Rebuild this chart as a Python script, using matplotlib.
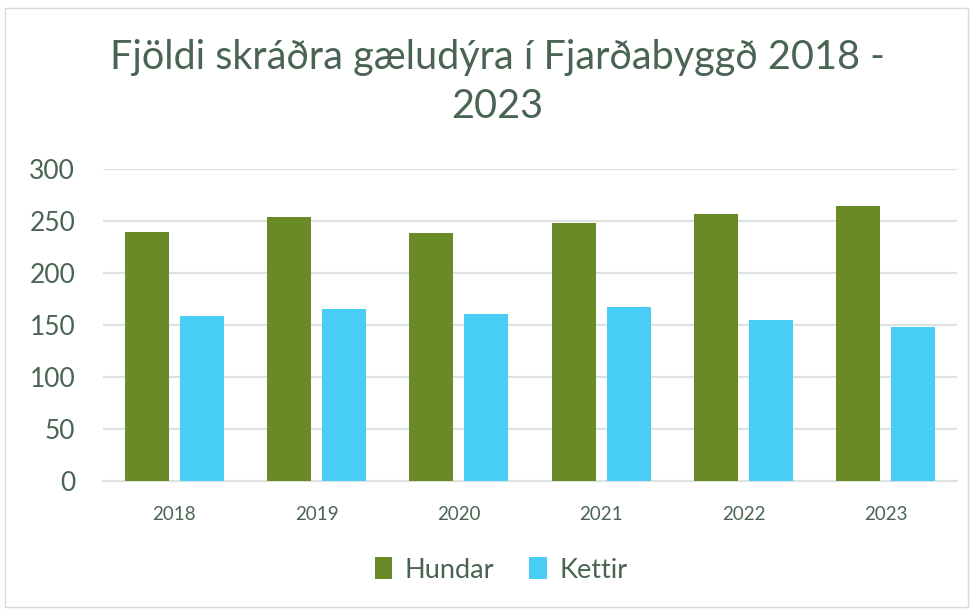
import matplotlib.pyplot as plt
import numpy as np
from matplotlib.patches import Rectangle

years = ["2018", "2019", "2020", "2021", "2022", "2023"]
hundar = [239, 254, 238, 248, 257, 264]
kettir = [159, 165, 161, 167, 155, 148]

green = "#6a8a28"
blue = "#48cdf6"
text_color = "#4a6453"

plt.rcParams['font.family'] = ['Lato', 'DejaVu Sans']

fig = plt.figure(figsize=(9.74, 6.1), dpi=100)
ax = fig.add_axes([103 / 974, 1 - 481 / 610, 854 / 974, 312 / 610])

x = np.arange(len(years))
w = 0.31
gap = 0.077
ax.bar(x - (w + gap) / 2, hundar, w, color=green, label="Hundar", zorder=3)
ax.bar(x + (w + gap) / 2, kettir, w, color=blue, label="Kettir", zorder=3)

ax.set_xlim(-0.5, len(years) - 0.5)
ax.set_ylim(0, 300)
ax.set_yticks(range(0, 301, 50))
ax.set_xticks(x)
ax.set_xticklabels(years)
ax.grid(axis="y", color="#dce2e0", linewidth=1.5, zorder=0)
for s in ["top", "right", "left"]:
    ax.spines[s].set_visible(False)
ax.spines["bottom"].set_color("#dce2e0")
ax.spines["bottom"].set_linewidth(1.5)
ax.tick_params(axis="y", length=0, labelsize=19, colors=text_color, pad=20)
ax.tick_params(axis="x", length=0, labelsize=13.5, colors=text_color, pad=18)

# title, split over two lines like the original
fig.text(497 / 974, 1 - 57 / 610, "Fjöldi skráðra gæludýra í Fjarðabyggð 2018 -", ha="center", va="center",
         fontsize=28.5, color=text_color)
fig.text(497 / 974, 1 - 106 / 610, "2023", ha="center", va="center", fontsize=28.5, color=text_color)

leg = fig.legend(loc="center", bbox_to_anchor=(501 / 974, 1 - 570 / 610), ncol=2, frameon=False,
                 fontsize=19.5, handlelength=0.65, handleheight=0.85, handletextpad=0.45, columnspacing=1.3)
for t in leg.get_texts():
    t.set_color(text_color)

fig.patches.append(Rectangle((5 / 974, 3 / 610), 963 / 974, 599 / 610, transform=fig.transFigure,
                             fill=False, edgecolor="#d9d9d9", linewidth=1))

fig.savefig("out.png", dpi=100)
